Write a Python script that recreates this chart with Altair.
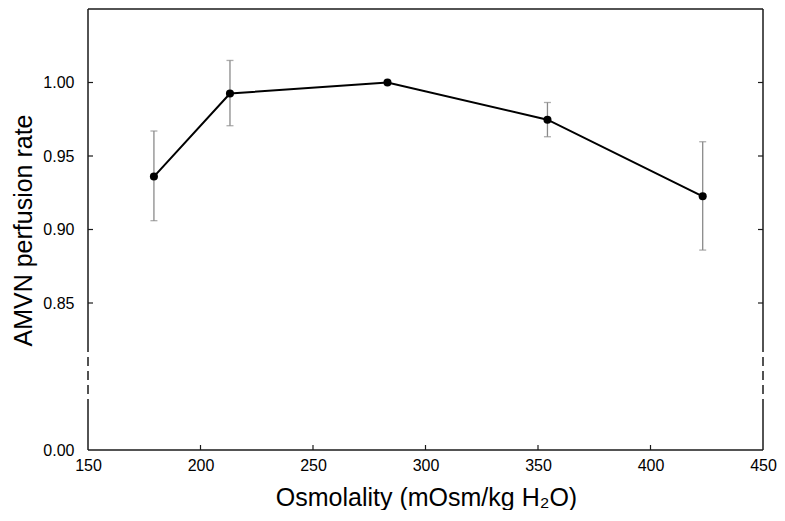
import altair as alt
import pandas as pd

# Data
osmolality = [179.3, 213.1, 283.1, 354.2, 423.2]
rate = [0.936, 0.9925, 1.000, 0.9747, 0.9226]
err_lo = [0.906, 0.9706, 1.000, 0.9631, 0.886]
err_hi = [0.967, 1.015, 1.000, 0.9864, 0.9597]

x_ticks = [150, 200, 250, 300, 350, 400, 450]
y_ticks = [0.75, 0.85, 0.90, 0.95, 1.00]   # 0.75 is shown as the broken-axis "0.00"

X_MIN, X_MAX = 150, 450
Y_MIN, Y_MAX = 0.75, 1.05
BREAK_LO, BREAK_HI = 0.7786, 0.820

W, H = 675, 441
FONT = "Liberation Sans"

df = pd.DataFrame({"x": osmolality, "y": rate, "lo": err_lo, "hi": err_hi})

xs = alt.Scale(domain=[X_MIN, X_MAX], nice=False, zero=False)
ys = alt.Scale(domain=[Y_MIN, Y_MAX], nice=False, zero=False)

x_axis = alt.Axis(values=x_ticks, ticks=False, domain=False, grid=False, labelFlush=False,
                  labelFontSize=16, labelFont=FONT, labelColor="black", labelPadding=7,
                  title="Osmolality (mOsm/kg H\u2082O)", titleFontSize=25, titleFont=FONT,
                  titleFontWeight="normal", titleColor="black",
                  titleBaseline="alphabetic", titleX=338, titleY=55)
y_axis = alt.Axis(values=y_ticks, ticks=False, domain=False, grid=False, labelFlush=False,
                  labelExpr="datum.value < 0.8 ? '0.00' : format(datum.value, '.2f')",
                  labelFontSize=16, labelFont=FONT, labelColor="black", labelPadding=14,
                  title="AMVN perfusion rate", titleFontSize=25, titleFont=FONT,
                  titleFontWeight="normal", titleColor="black",
                  titleBaseline="alphabetic", titleAngle=270, titleX=-57, titleY=221)

base = alt.Chart(df)

errbars = base.mark_errorbar(ticks=True, color="#8a8a8a", thickness=1.3, size=7).encode(
    x=alt.X("x:Q", scale=xs, axis=x_axis),
    y=alt.Y("lo:Q", scale=ys, axis=y_axis),
    y2="hi:Q",
)
line = base.mark_line(color="black", strokeWidth=2).encode(
    x=alt.X("x:Q", scale=xs), y=alt.Y("y:Q", scale=ys))
points = base.mark_point(filled=True, color="black", size=65, opacity=1).encode(
    x=alt.X("x:Q", scale=xs), y=alt.Y("y:Q", scale=ys))

# frame segments (solid / dashed) in data coordinates
seg = pd.DataFrame({
    "x":  [X_MIN, X_MIN, X_MIN, X_MAX, X_MAX, X_MAX, X_MIN, X_MIN],
    "x2": [X_MIN, X_MIN, X_MIN, X_MAX, X_MAX, X_MAX, X_MAX, X_MAX],
    "y":  [Y_MIN, BREAK_LO, BREAK_HI, Y_MIN, BREAK_LO, BREAK_HI, Y_MIN, Y_MAX],
    "y2": [BREAK_LO, BREAK_HI, Y_MAX, BREAK_LO, BREAK_HI, Y_MAX, Y_MIN, Y_MAX],
    "dash": ["solid", "dash", "solid", "solid", "dash", "solid", "solid", "solid"],
})
frame_solid = alt.Chart(seg).transform_filter("datum.dash == 'solid'").mark_rule(
    color="#1a1a1a", strokeWidth=1.5).encode(
    x=alt.X("x:Q", scale=xs), x2="x2:Q", y=alt.Y("y:Q", scale=ys), y2="y2:Q")
frame_dash = alt.Chart(seg).transform_filter("datum.dash == 'dash'").mark_rule(
    color="#1a1a1a", strokeWidth=1.5, strokeDash=[9, 5]).encode(
    x=alt.X("x:Q", scale=xs), x2="x2:Q", y=alt.Y("y:Q", scale=ys), y2="y2:Q")

yt = pd.DataFrame({"v": y_ticks[1:]})
xt = pd.DataFrame({"v": x_ticks[1:-1]})
ytick_l = alt.Chart(yt).mark_rule(color="#1a1a1a", strokeWidth=1.2).encode(
    y=alt.Y("v:Q", scale=ys), x=alt.value(0), x2=alt.value(5))
ytick_r = alt.Chart(yt).mark_rule(color="#1a1a1a", strokeWidth=1.2).encode(
    y=alt.Y("v:Q", scale=ys), x=alt.value(W - 5), x2=alt.value(W))
xtick = alt.Chart(xt).mark_rule(color="#1a1a1a", strokeWidth=1.2).encode(
    x=alt.X("v:Q", scale=xs), y=alt.value(H), y2=alt.value(H - 5))

chart = alt.layer(
    errbars, frame_solid, frame_dash, ytick_l, ytick_r, xtick, line, points
).properties(
    width=W, height=H,
    autosize=alt.AutoSizeParams(type="none"),
    padding={"left": 80, "top": 1, "right": 14, "bottom": 60},
    background="white",
).configure_view(stroke=None)

chart.save("out.html", embed_options={"renderer": "svg", "actions": False})
